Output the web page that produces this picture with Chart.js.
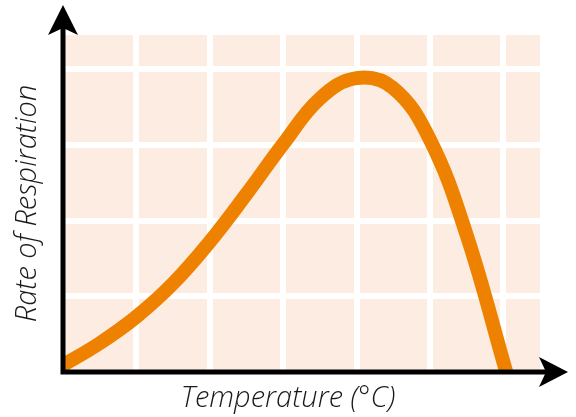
<!DOCTYPE html>
<html>
<head>
<meta charset="utf-8">
<script src="https://cdn.jsdelivr.net/npm/chart.js@4.4.1/dist/chart.umd.min.js"></script>
<style>
  html, body { margin: 0; padding: 0; background: #ffffff; }
  #wrap { width: 576px; height: 417px; position: relative; }
</style>
</head>
<body>
<div id="wrap"><canvas id="grafico"></canvas></div>
<script>
// Temperature (arbitrary units, one per grid cell) and rate of respiration
const temperature = [0, 0.5, 1.0, 1.5, 2.0, 2.5, 3.0, 3.5, 4.0, 4.5, 5.0, 5.5, 6.04];
const respirationRate = [0.09, 0.38, 0.73, 1.17, 1.72, 2.35, 3.01, 3.61, 3.88, 3.75, 3.07, 1.81, 0];

const xTitle = 'Temperature (°C)';
const yTitle = 'Rate of Respiration';

const corFundo = '#fdece1';
const corLinha = '#ee8200';
const corEixo = '#000000';

// fundo pêssego da área do gráfico
const fundoPlugin = {
  id: 'fundo',
  beforeDraw(chart) {
    const { ctx, chartArea: a } = chart;
    ctx.save();
    ctx.fillStyle = corFundo;
    ctx.fillRect(a.left, a.top, a.right - a.left, a.bottom - a.top);
    ctx.restore();
  }
};

// eixos com setas e títulos
const eixosPlugin = {
  id: 'eixos',
  afterDraw(chart) {
    const { ctx, chartArea: a } = chart;
    const x0 = a.left, y0 = a.bottom;
    ctx.save();
    ctx.strokeStyle = corEixo;
    ctx.fillStyle = corEixo;
    ctx.lineWidth = 5;
    ctx.lineCap = 'butt';

    ctx.beginPath();
    ctx.moveTo(x0, y0 + 2.5);
    ctx.lineTo(x0, 18);
    ctx.moveTo(x0 - 2.5, y0);
    ctx.lineTo(555, y0);
    ctx.stroke();

    // seta vertical
    ctx.beginPath();
    ctx.moveTo(x0, 5);
    ctx.lineTo(x0 + 15, 35);
    ctx.lineTo(x0, 28);
    ctx.lineTo(x0 - 15, 35);
    ctx.closePath();
    ctx.fill();

    // seta horizontal
    ctx.beginPath();
    ctx.moveTo(568, y0);
    ctx.lineTo(539, y0 - 15);
    ctx.lineTo(546, y0);
    ctx.lineTo(539, y0 + 15);
    ctx.closePath();
    ctx.fill();

    ctx.fillStyle = '#1a1a1a';
    ctx.font = 'italic 300 29px "Open Sans", "DejaVu Sans", sans-serif';
    ctx.textAlign = 'center';
    ctx.textBaseline = 'middle';
    ctx.fillText(xTitle, 288, 399);

    ctx.translate(28, (a.top + a.bottom) / 2);
    ctx.rotate(-Math.PI / 2);
    ctx.fillText(yTitle, 0, 0);
    ctx.restore();
  }
};

const gradeCor = (c) => (c.tick && c.tick.value === 0 ? 'rgba(0,0,0,0)' : '#ffffff');

new Chart(document.getElementById('grafico').getContext('2d'), {
  type: 'line',
  data: {
    datasets: [{
      data: temperature.map((t, i) => ({ x: t, y: respirationRate[i] })),
      borderColor: corLinha,
      borderWidth: 14,
      pointRadius: 0,
      fill: false,
      tension: 0.4,
      clip: 0
    }]
  },
  options: {
    responsive: true,
    maintainAspectRatio: false,
    animation: false,
    layout: { padding: { left: 63, top: 35, right: 36, bottom: 45 } },
    plugins: {
      legend: { display: false },
      tooltip: { enabled: false }
    },
    scales: {
      x: {
        type: 'linear',
        min: 0,
        max: 6.5,
        ticks: { display: false, stepSize: 1, includeBounds: false },
        grid: { color: gradeCor, lineWidth: 6, drawTicks: false },
        border: { display: false }
      },
      y: {
        type: 'linear',
        min: 0,
        max: 4.45,
        ticks: { display: false, stepSize: 1, includeBounds: false },
        grid: { color: gradeCor, lineWidth: 6, drawTicks: false },
        border: { display: false }
      }
    }
  },
  plugins: [fundoPlugin, eixosPlugin]
});
</script>
</body>
</html>
